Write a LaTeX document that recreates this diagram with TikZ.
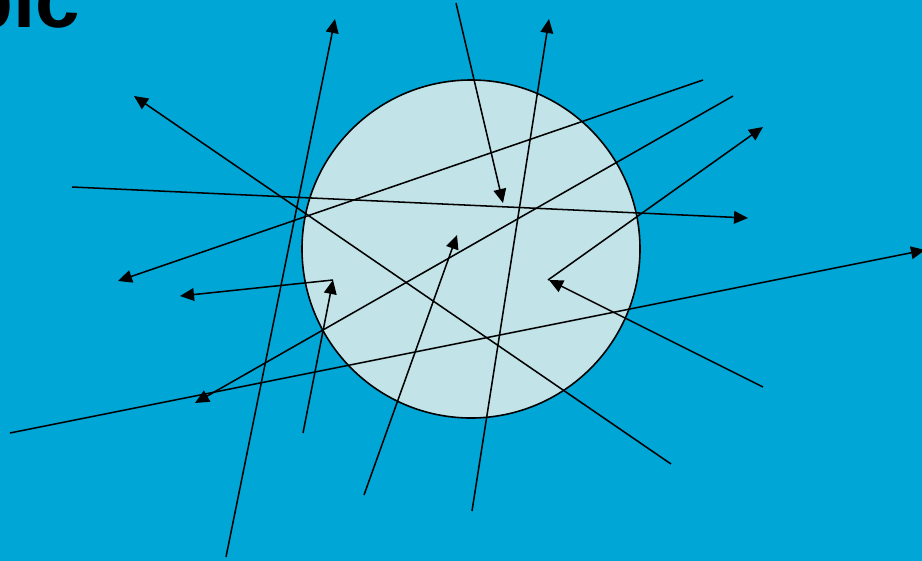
\documentclass[tikz,border=0pt]{standalone}
\usepackage{fontspec}
\setmainfont{Liberation Sans}
\usetikzlibrary{arrows.meta}
\definecolor{bgblue}{RGB}{0,166,214}
\definecolor{cellfill}{RGB}{194,228,232}
\tikzset{
  ray/.style={draw=black, line width=1.15pt, -{Triangle[length=10.5pt,width=9.5pt]}},
  cell/.style={circle, draw=black, line width=1.2pt, fill=cellfill, minimum size=338*0.75pt, inner sep=0pt},
  titletext/.style={font=\bfseries\fontsize{60}{60}\selectfont, inner sep=0pt, anchor=base east, text=black}
}
\begin{document}
\begin{tikzpicture}[x=0.75pt,y=-0.75pt]
\useasboundingbox (0,0) rectangle (922,561);
\clip (0,0) rectangle (922,561);
\fill[bgblue] (0,0) rectangle (922,561);
\node[titletext] (title) at (80.4,27) {pic};
\node[cell] (cell) at (471,249) {};
% endpoints
\coordinate (s1) at (226,557); \coordinate (e1) at (335,19);
\coordinate (s2) at (456,3);   \coordinate (e2) at (503,203);
\coordinate (s3) at (472,511); \coordinate (e3) at (549,19);
\coordinate (s4) at (671,464); \coordinate (e4) at (134,96);
\coordinate (s5) at (72,187);  \coordinate (e5) at (748,218);
\coordinate (s6) at (703,80);  \coordinate (e6) at (118,281);
\coordinate (s7) at (733,96);  \coordinate (e7) at (195,403);
\coordinate (s8) at (548,280); \coordinate (e8) at (763,127);
\coordinate (s9) at (10,433);  \coordinate (e9) at (925,250);
\coordinate (s10) at (763,387); \coordinate (e10) at (549,280);
\coordinate (s11) at (333,280); \coordinate (e11) at (180,296);
\coordinate (s12) at (303,433); \coordinate (e12) at (333,280);
\coordinate (s13) at (364,495); \coordinate (e13) at (457,235);
\foreach \i in {1,...,13} {\draw[ray] (s\i) -- (e\i);}
\end{tikzpicture}
\end{document}
